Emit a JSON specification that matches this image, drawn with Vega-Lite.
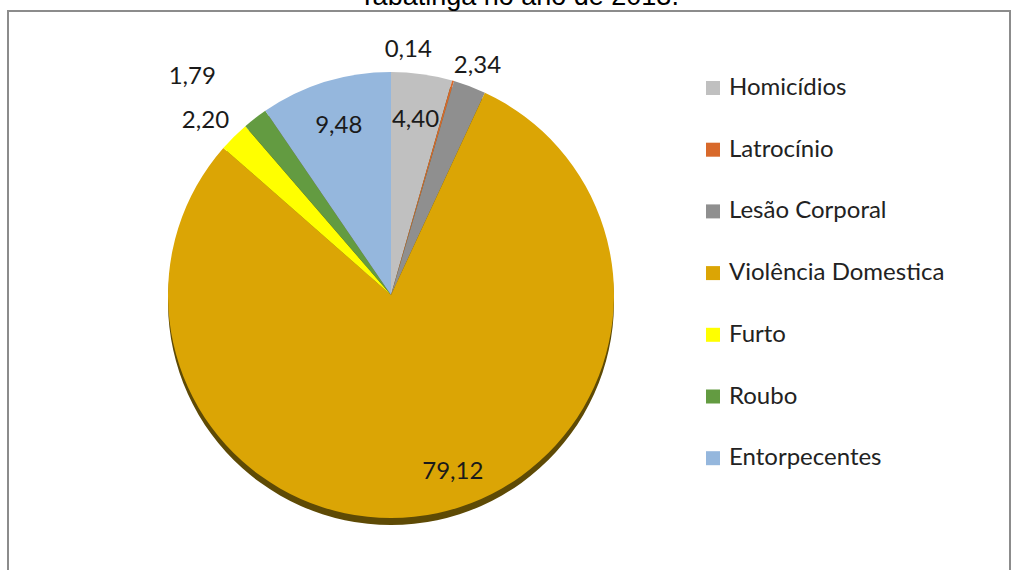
{
  "$schema": "https://vega.github.io/schema/vega-lite/v6.json",
  "width": 1002,
  "height": 561,
  "autosize": {"type": "none"},
  "padding": {"top": 11, "left": 8, "right": 1, "bottom": 0},
  "background": "white",
  "view": {"stroke": "#8c8c8c", "strokeWidth": 2, "fill": "white"},
  "title": {
    "text": "Tabatinga no ano de 2013.",
    "font": "Liberation Sans",
    "fontSize": 27,
    "fontWeight": "normal",
    "color": "#000000",
    "anchor": "middle",
    "frame": "group",
    "baseline": "alphabetic",
    "offset": -24,
    "dx": 10
  },
  "config": {
    "text": {"font": "Lato"}
  },
  "data": {
    "values": [
      {"i": 1, "crime": "Homicídios", "pct": 4.40, "label": "4,40"},
      {"i": 2, "crime": "Latrocínio", "pct": 0.14, "label": "0,14"},
      {"i": 3, "crime": "Lesão Corporal", "pct": 2.34, "label": "2,34"},
      {"i": 4, "crime": "Violência Domestica", "pct": 79.12, "label": "79,12"},
      {"i": 5, "crime": "Furto", "pct": 2.20, "label": "2,20"},
      {"i": 6, "crime": "Roubo", "pct": 1.79, "label": "1,79"},
      {"i": 7, "crime": "Entorpecentes", "pct": 9.48, "label": "9,48"}
    ]
  },
  "encoding": {
    "theta": {"field": "pct", "type": "quantitative", "stack": true},
    "order": {"field": "i", "type": "quantitative"}
  },
  "layer": [
    {
      "mark": {"type": "arc", "x": 383, "y": 284, "outerRadius": 223, "yOffset": 7, "fill": "#5e4a05", "stroke": null}
    },
    {
      "mark": {"type": "arc", "x": 383, "y": 284, "outerRadius": 223, "stroke": null},
      "encoding": {
        "color": {
          "field": "crime",
          "type": "nominal",
          "sort": null,
          "scale": {
            "domain": ["Homicídios", "Latrocínio", "Lesão Corporal", "Violência Domestica", "Furto", "Roubo", "Entorpecentes"],
            "range": ["#c0c0c0", "#d8692b", "#8f8f8f", "#dba505", "#ffff00", "#639b41", "#95b7dd"]
          },
          "legend": {
            "title": null,
            "orient": "none",
            "legendX": 693,
            "legendY": 65,
            "symbolType": "square",
            "symbolSize": 196,
            "symbolStrokeWidth": 0,
            "labelFont": "Lato",
            "labelFontSize": 24,
            "labelColor": "#222222",
            "labelOffset": 4,
            "labelLimit": 400,
            "rowPadding": 37.7,
            "labelBaseline": "middle"
          }
        }
      }
    },
    {
      "mark": {"type": "text", "x": 383, "y": 284, "radius": 177, "fontSize": 24, "color": "#1a1a1a", "baseline": "middle", "align": "center"},
      "encoding": {"text": {"condition": {"test": "datum.i == 1 || datum.i == 7", "field": "label"}, "value": ""}}
    },
    {
      "mark": {"type": "text", "x": 383, "y": 284, "radius": 178, "fontSize": 24, "color": "#1a1a1a", "baseline": "middle", "align": "center", "dx": 25, "dy": 3},
      "encoding": {"text": {"condition": {"test": "datum.i == 4", "field": "label"}, "value": ""}}
    },
    {
      "mark": {"type": "text", "x": 383, "y": 284, "radius": 245, "fontSize": 24, "color": "#1a1a1a", "baseline": "middle", "align": "center"},
      "encoding": {"text": {"condition": {"test": "datum.i == 3", "field": "label"}, "value": ""}}
    },
    {
      "mark": {"type": "text", "x": 383, "y": 284, "radius": 245, "fontSize": 24, "color": "#1a1a1a", "baseline": "middle", "align": "center", "dx": -13},
      "encoding": {"text": {"condition": {"test": "datum.i == 5", "field": "label"}, "value": ""}}
    },
    {
      "mark": {"type": "text", "x": 383, "y": 284, "radius": 290, "fontSize": 24, "color": "#1a1a1a", "baseline": "middle", "align": "center", "dx": -22, "dy": 12},
      "encoding": {"text": {"condition": {"test": "datum.i == 6", "field": "label"}, "value": ""}}
    },
    {
      "mark": {"type": "text", "x": 383, "y": 284, "radius": 245, "fontSize": 24, "color": "#1a1a1a", "baseline": "middle", "align": "center", "dx": -51, "dy": -10},
      "encoding": {"text": {"condition": {"test": "datum.i == 2", "field": "label"}, "value": ""}}
    }
  ]
}
